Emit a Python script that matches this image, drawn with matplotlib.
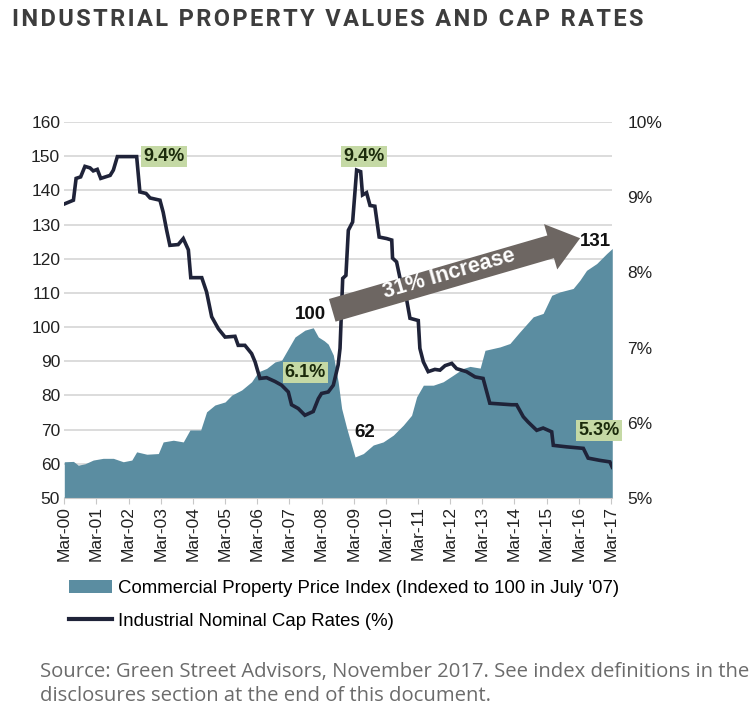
import matplotlib
matplotlib.use("Agg")
from matplotlib import pyplot as plt
from matplotlib.patches import Patch
from matplotlib.lines import Line2D

# months counted from Mar-2000
cppi_months = [0, 3.4, 5.2, 7.7, 10.8, 14.5, 18.3, 22.0, 25.2, 27.0, 30.8, 35.1, 36.9,
               40.7, 44.4, 46.9, 50.9, 53.1, 56.2, 60.0, 62.5, 66.2, 69.9, 72.4, 75.5,
               78.6, 81.1, 83.6, 86.1, 89.8, 92.9, 94.8, 97.0, 98.5, 100.4, 102.2, 103.5,
               105.4, 108.5, 111.6, 115.3, 119.0, 122.8, 126.5, 129.6, 131.5, 134.0,
               137.7, 141.4, 145.1, 148.9, 151.4, 155.2, 157.0, 162.6, 166.3, 170.0,
               175.0, 178.7, 181.9, 185.0, 189.9, 192.4, 194.9, 198.7, 202.4, 204.5]
cppi_values = [60.6, 60.7, 59.6, 60.0, 61.1, 61.6, 61.6, 60.6, 61.1, 63.5, 62.8, 63.0, 66.4,
               66.9, 66.4, 69.9, 69.9, 75.2, 77.2, 78.1, 80.1, 81.6, 84.0, 86.9, 87.9,
               89.8, 90.3, 93.7, 97.1, 99.1, 99.8, 97.1, 96.0, 95.0, 91.8, 84.0, 76.2,
               70.4, 62.0, 63.0, 65.5, 66.4, 68.4, 71.3, 74.2, 79.6, 83.0,
               83.0, 84.0, 85.9, 87.9, 88.5, 88.0, 93.2, 94.2, 95.2, 98.6,
               103.0, 104.0, 109.3, 110.3, 111.3, 113.7, 116.6, 118.6, 121.5, 123.0]

cap_months = [0, 3.4, 4.4, 6.1, 7.7, 9.6, 10.8, 12.3, 13.6, 17.1, 18.3, 19.8, 27.0, 28.2,
              30.5, 32.0, 35.7, 36.9, 38.2, 39.4, 42.5, 44.4, 46.3, 47.2, 51.3, 53.1,
              55.0, 57.5, 60.0, 63.7, 64.9, 67.4, 69.9, 71.2, 73.0, 75.5, 78.6, 81.1,
              83.6, 84.8, 87.3, 89.8, 92.9, 94.8, 96.0, 98.5, 100.4, 102.2, 102.9, 103.9,
              105.1, 106.0, 107.6, 109.1, 110.6, 111.3, 112.8, 114.1, 115.9, 117.5, 120.3,
              122.2, 122.5, 124.0, 125.3, 127.8, 129.0, 132.1, 132.7, 134.0, 135.8, 138.3,
              140.2, 142.1, 144.6, 146.4, 150.1, 153.3, 156.3, 158.8, 166.9, 168.8, 171.3,
              173.1, 176.3, 178.7, 181.9, 182.5, 187.5, 193.7, 195.5, 199.9, 203.6, 204.5]
cap_rates = [8.91, 8.96, 9.25, 9.27, 9.41, 9.39, 9.35, 9.37, 9.25, 9.29, 9.36, 9.54, 9.54, 9.07,
             9.05, 8.99, 8.96, 8.80, 8.56, 8.36, 8.37, 8.45, 8.30, 7.93, 7.93, 7.74,
             7.41, 7.25, 7.14, 7.15, 7.03, 7.03, 6.92, 6.81, 6.59, 6.60, 6.55, 6.50,
             6.41, 6.24, 6.19, 6.10, 6.15, 6.32, 6.39, 6.41, 6.50, 6.77, 6.99, 7.92,
             7.96, 8.56, 8.67, 9.36, 9.34, 9.03, 9.06, 8.89, 8.88, 8.47, 8.45,
             8.43, 8.19, 8.14, 7.92, 7.63, 7.39, 7.36, 6.99, 6.81, 6.68, 6.71,
             6.70, 6.76, 6.79, 6.72, 6.68, 6.61, 6.59, 6.26, 6.24, 6.24, 6.08,
             6.01, 5.90, 5.93, 5.88, 5.70, 5.68, 5.66, 5.53, 5.50, 5.48, 5.41]

tick_months = list(range(0, 205, 12))
tick_labels = ["Mar-%02d" % (y % 100) for y in range(2000, 2018)]

# labels: (text, month, index value)
rate_labels = [("9.4%", 37.2, 150.0), ("9.4%", 111.8, 150.0), ("6.1%", 90.0, 86.8), ("5.3%", 199.5, 69.8)]
value_labels = [("100", 91.8, 103.8), ("62", 112.2, 69.3), ("131", 198.1, 125.1)]

AREA = "#5b8da1"
LINE = "#1f2339"
GRID = "#d9d9d9"

plt.rcParams['font.family'] = ['Liberation Sans', 'DejaVu Sans']

fig = plt.figure(figsize=(7.53, 7.11), dpi=100)
ax = fig.add_axes([0.0854, 0.2996, 0.7277, 0.5288])
ax2 = ax.twinx()

ax.fill_between(cppi_months, cppi_values, 50, color=AREA, linewidth=0)
ax2.plot(cap_months, cap_rates, color=LINE, linewidth=2.6, solid_joinstyle='miter')

ax.set_xlim(0, 204.5)
ax.set_ylim(50, 160)
ax2.set_ylim(5, 10)
ax.set_yticks(range(50, 161, 10))
ax2.set_yticks(range(5, 11))
ax2.set_yticklabels(["%d%%" % v for v in range(5, 11)])
ax.set_xticks(tick_months)
ax.set_xticklabels(tick_labels, rotation=90)

ax.grid(axis='y', color=GRID, linewidth=1.3)
ax.set_axisbelow(True)
for a in (ax, ax2):
    for s in ('top', 'left', 'right'):
        a.spines[s].set_visible(False)
    a.spines['bottom'].set_color('#c8c8c8')
ax2.spines['bottom'].set_visible(False)

ax.tick_params(axis='y', length=0, pad=3, labelsize=12.5, labelcolor='#222222')
ax2.tick_params(axis='y', length=0, pad=11, labelsize=12.5, labelcolor='#222222')
ax.tick_params(axis='x', length=4, color='#c8c8c8', pad=2, labelsize=12.5, labelcolor='#222222')

# annotations drawn on the top axes, placed in index coordinates
for txt, m, v in rate_labels:
    ax2.text(m, v, txt, transform=ax.transData, ha='center', va='center', fontsize=13,
             fontweight='bold', color='#1b2a0b', clip_on=False, zorder=6,
             bbox=dict(boxstyle='square,pad=0.12', fc='#c5d9a5', ec='none'))
for txt, m, v in value_labels:
    ax2.text(m, v, txt, transform=ax.transData, ha='center', va='center', fontsize=13.5,
             fontweight='bold', color='#111111', zorder=6)

ax2.annotate('', xy=(192.5, 126.0), xycoords=ax.transData, xytext=(100.0, 104.9),
             textcoords=ax.transData, zorder=5,
             arrowprops=dict(arrowstyle='simple,head_length=1.3,head_width=2.0,tail_width=1.0',
                             mutation_scale=17, fc='#6d6662', ec='none', shrinkA=0, shrinkB=0))
ax2.text(143.5, 115.6, "31% Increase", transform=ax.transData, rotation=16,
         rotation_mode='anchor', ha='center', va='center', fontsize=15.5,
         fontweight='bold', color='white', zorder=7)

handles = [Patch(facecolor=AREA, edgecolor='none'),
           Line2D([0], [0], color=LINE, linewidth=3)]
fig.legend(handles, ["Commercial Property Price Index (Indexed to 100 in July '07)",
                     "Industrial Nominal Cap Rates (%)"],
           loc='upper left', bbox_to_anchor=(0.092, 1 - 580 / 711), bbox_transform=fig.transFigure,
           frameon=False, fontsize=13.4, handlelength=2.3, handletextpad=0.3,
           labelspacing=0.85, borderpad=0, borderaxespad=0)

title = "\u200a".join("INDUSTRIAL PROPERTY VALUES AND CAP RATES")
fig.text(12 / 753, 1 - 20 / 711, title, ha='left', va='center', fontsize=17,
         fontweight='bold', color='#3d3d3d', family=['Roboto', 'DejaVu Sans'])

fig.text(40 / 753, 1 - 672 / 711, "Source: Green Street Advisors, November 2017. See index definitions in the",
         ha='left', va='center', fontsize=14.6, color='#6b6b6b', family=['Open Sans', 'DejaVu Sans'])
fig.text(40 / 753, 1 - 696 / 711, "disclosures section at the end of this document.",
         ha='left', va='center', fontsize=14.6, color='#6b6b6b', family=['Open Sans', 'DejaVu Sans'])

plt.savefig('out.png', dpi=100)
